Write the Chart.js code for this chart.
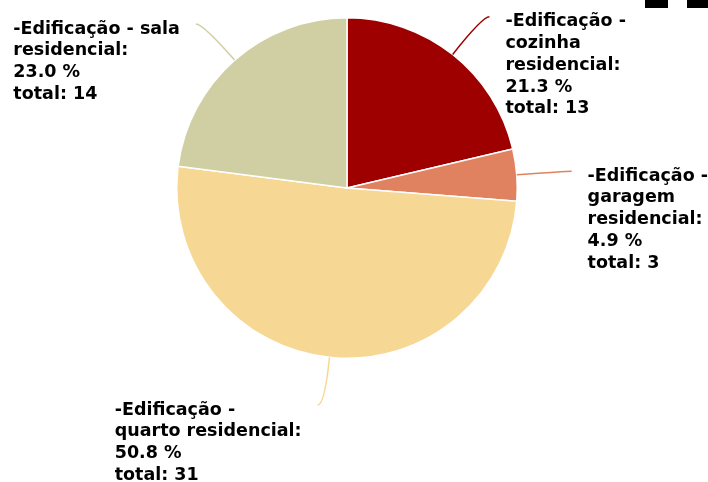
<!DOCTYPE html>
<html lang="pt">
<head>
    <meta charset="UTF-8">
    <title>Edificação residencial</title>
    <script src="https://cdn.jsdelivr.net/npm/chart.js"></script>
    <style>
        html, body { margin: 0; padding: 0; background: #ffffff; }
        #wrap { width: 708px; height: 482px; position: relative; }
    </style>
</head>
<body>
    <div id="wrap"><canvas id="pieChart"></canvas></div>
    <script>
        // data
        const categories = [
            "-Edificação - cozinha residencial:",
            "-Edificação - garagem residencial:",
            "-Edificação - quarto residencial:",
            "-Edificação - sala residencial:"
        ];
        const totals = [13, 3, 31, 14];
        const sliceColors = ["#9e0000", "#e0825f", "#f7d794", "#cfcfa3"];

        const labelFont = "bold 17.5px 'DejaVu Sans', sans-serif";
        const lineHeight = 21.7;
        const wrapWidth = 188;

        function wrapText(ctx, text, maxW) {
            const words = text.split(" ");
            const lines = [];
            let cur = "";
            words.forEach(w => {
                const test = cur ? cur + " " + w : w;
                if (cur && ctx.measureText(test).width > maxW) {
                    lines.push(cur);
                    cur = w;
                } else {
                    cur = test;
                }
            });
            if (cur) lines.push(cur);
            return lines;
        }

        // leader lines + labels drawn outside the slices
        const outsideLabels = {
            id: "outsideLabels",
            afterDatasetsDraw(chart) {
                const ctx = chart.ctx;
                const meta = chart.getDatasetMeta(0);
                const sum = totals.reduce((a, b) => a + b, 0);
                ctx.save();
                ctx.font = labelFont;
                meta.data.forEach((arc, i) => {
                    const p = arc.getProps(["x", "y", "startAngle", "endAngle", "outerRadius"], true);
                    const mid = (p.startAngle + p.endAngle) / 2;
                    const dx = Math.cos(mid), dy = Math.sin(mid);
                    const r = p.outerRadius;
                    const x0 = p.x + dx * r, y0 = p.y + dy * r;
                    const x1 = p.x + dx * (r + 48), y1 = p.y + dy * (r + 48);
                    const right = dx >= 0;
                    const x2 = x1 + (right ? 7 : -7), y2 = y1;

                    ctx.strokeStyle = sliceColors[i];
                    ctx.lineWidth = 1.5;
                    ctx.beginPath();
                    ctx.moveTo(x0, y0);
                    ctx.quadraticCurveTo(x1, y1, x2, y2);
                    ctx.stroke();

                    const pct = (totals[i] / sum * 100).toFixed(1);
                    const lines = wrapText(ctx, categories[i], wrapWidth)
                        .concat([pct + " %", "total: " + totals[i]]);
                    const blockW = Math.max(...lines.map(l => ctx.measureText(l).width));
                    const tx = right ? x2 + 16 : x2 - 16 - blockW;
                    ctx.fillStyle = "#000000";
                    ctx.textAlign = "left";
                    ctx.textBaseline = "middle";
                    lines.forEach((l, k) => {
                        ctx.fillText(l, tx, y2 + 5 + k * lineHeight);
                    });
                });
                // cropped toolbar marks at the top right
                ctx.fillStyle = "#000000";
                ctx.fillRect(645, 0, 23, 8);
                ctx.fillRect(687, 0, 21, 8);
                ctx.restore();
            }
        };

        const ctx = document.getElementById("pieChart").getContext("2d");
        new Chart(ctx, {
            type: "pie",
            data: {
                labels: categories,
                datasets: [{
                    data: totals,
                    backgroundColor: sliceColors,
                    borderColor: "#ffffff",
                    borderWidth: 1.5
                }]
            },
            options: {
                responsive: true,
                maintainAspectRatio: false,
                animation: false,
                layout: { padding: { left: 176, right: 190, top: 17, bottom: 123 } },
                plugins: {
                    legend: { display: false },
                    tooltip: { enabled: false }
                }
            },
            plugins: [outsideLabels]
        });
    </script>
</body>
</html>
